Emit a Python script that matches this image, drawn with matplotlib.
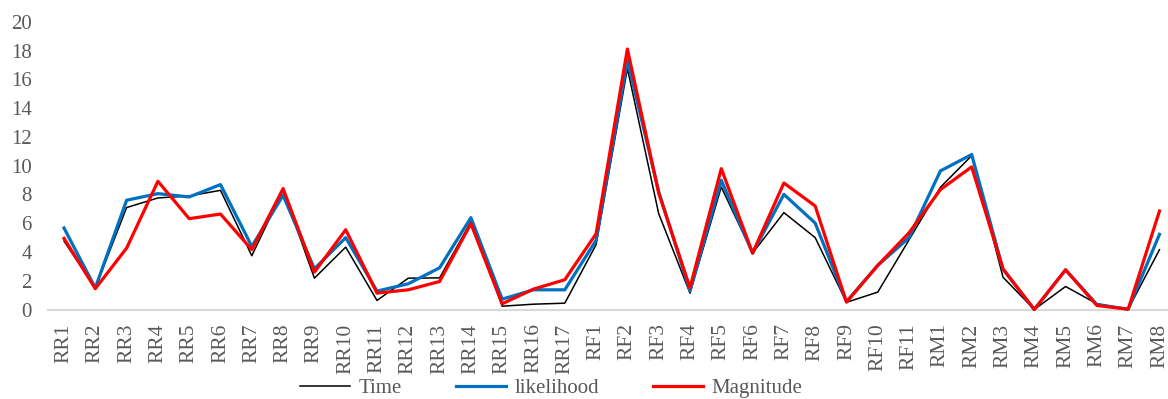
import matplotlib
matplotlib.use("Agg")
import matplotlib.pyplot as plt

categories = (
    [f"RR{i}" for i in range(1, 18)]
    + [f"RF{i}" for i in range(1, 12)]
    + [f"RM{i}" for i in range(1, 9)]
)

time_vals = [4.76, 1.50, 7.09, 7.76, 7.90, 8.29, 3.74, 8.30, 2.18, 4.34, 0.63, 2.18,
             2.20, 6.10, 0.23, 0.37, 0.44,
             4.51, 16.77, 6.67, 1.14, 8.52, 3.92, 6.74, 5.00, 0.50, 1.21, 4.85,
             8.50, 10.70, 2.25, 0.00, 1.60, 0.40, 0.02, 4.16]
likelihood_vals = [5.67, 1.50, 7.60, 8.06, 7.83, 8.69, 4.39, 7.94, 2.83, 5.00, 1.28, 1.79,
                   2.90, 6.39, 0.72, 1.37, 1.37,
                   4.81, 17.35, 8.20, 1.30, 8.99, 3.92, 8.01, 6.01, 0.55, 3.07, 5.00,
                   9.64, 10.78, 2.80, 0.00, 2.76, 0.35, 0.02, 5.23]
magnitude_vals = [4.95, 1.45, 4.27, 8.92, 6.32, 6.64, 4.16, 8.41, 2.60, 5.55, 1.14, 1.37,
                  1.95, 5.97, 0.40, 1.42, 2.07,
                  5.27, 18.12, 8.10, 1.51, 9.80, 3.92, 8.80, 7.20, 0.51, 3.07, 5.34,
                  8.34, 9.92, 2.83, 0.00, 2.76, 0.28, 0.02, 6.85]

plt.rcParams["font.family"] = ["Liberation Serif", "DejaVu Serif"]
text_color = "#595959"

fig = plt.figure(figsize=(11.68, 3.99), dpi=100)
ax = fig.add_axes([0.0414, 0.2243, 0.9647, 0.7206])

x = list(range(len(categories)))
ax.plot(x, time_vals, color="black", lw=1.1, label="Time", clip_on=False)
ax.plot(x, likelihood_vals, color="#0070C0", lw=2.3, label="likelihood", clip_on=False)
ax.plot(x, magnitude_vals, color="#FF0000", lw=2.3, label="Magnitude", clip_on=False)

ax.set_xlim(-0.5, len(categories) - 0.5)
ax.set_ylim(0, 20)
ax.set_yticks(range(0, 21, 2))
ax.set_xticks(x)
ax.set_xticklabels(categories, rotation=90)

for side in ("top", "right", "left"):
    ax.spines[side].set_visible(False)
ax.spines["bottom"].set_color("#D9D9D9")
ax.spines["bottom"].set_linewidth(1.5)
ax.spines["bottom"].set_zorder(0)

ax.tick_params(axis="y", length=0, pad=12, labelsize=15, labelcolor=text_color)
ax.tick_params(axis="x", length=0, pad=10, labelsize=15.5, labelcolor=text_color)

fig.legend(loc="center", bbox_to_anchor=(0.472, 0.026), ncol=3, frameon=False,
           fontsize=15, labelcolor=text_color, handlelength=2.4,
           handletextpad=0.4, columnspacing=2.6, borderpad=0)

fig.savefig("out.png", dpi=100)
